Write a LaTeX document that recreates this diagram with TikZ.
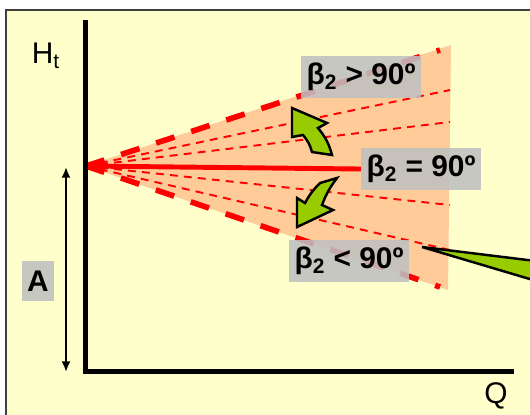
\documentclass[tikz,border=0pt]{standalone}
\usepackage{fontspec}
\setmainfont{Liberation Sans}
\usetikzlibrary{arrows.meta, positioning}
\definecolor{paleyellow}{RGB}{255,255,204}
\definecolor{fanorange}{RGB}{255,204,153}
\definecolor{leafgreen}{RGB}{153,204,0}
\definecolor{boxgray}{RGB}{192,192,192}

\begin{document}
\begin{tikzpicture}[
  x=0.02cm, y=-0.02cm,
  every node/.style={font=\fontsize{17}{20}\selectfont},
  tag/.style={fill=boxgray, fill opacity=0.88, text opacity=1, font=\fontsize{17}{20}\selectfont\bfseries, minimum height=24pt, inner sep=3pt},
  thickdash/.style={red, line width=3.2pt, dash pattern=on 11pt off 10pt},
  thindash/.style={red, line width=1.1pt, dash pattern=on 4.5pt off 3.5pt},
  turn/.style={draw=black, fill=leafgreen, line width=1.4pt, line join=miter},
  axis/.style={line width=2.8pt, line join=miter},
  span/.style={{Latex[length=6pt, width=5pt]}-{Latex[length=6pt, width=5pt]}, line width=1.1pt}
]
  \clip (0,0) rectangle (530,414);
  \fill[white] (0,0) rectangle (530,414);
  \draw[fill=paleyellow, draw=black!75, line width=0.8pt] (6,10) rectangle (560,440);

  % Fan
  \coordinate (apex) at (86,166);
  \coordinate (fanT) at (451,45);
  \coordinate (fanB) at (448,290);
  \fill[fanorange] (apex) -- (fanT) -- (fanB) -- cycle;

  \coordinate (up1) at (450,90);
  \coordinate (up2) at (450,122);
  \coordinate (dn1) at (450,205);
  \coordinate (dn2) at (450,250);
  \coordinate (upE) at (440,50);
  \coordinate (dnE) at (440,287);
  \foreach \e in {up1, up2, dn1, dn2}
    \draw[thindash] (apex) -- (\e);
  \draw[thickdash] (apex) -- (upE);
  \draw[thickdash] (apex) -- (dnE);

  % Labels
  \node[tag] (gt) at (361,77) {β\textsubscript{2} > 90º};
  \node[tag] (eq) at (421,169) {β\textsubscript{2} = 90º};
  \node[tag] (lt) at (349,261) {β\textsubscript{2} < 90º};
  \draw[red, line width=2.8pt] (apex) -- (eq.west);

  % Axes
  \coordinate (ytop) at (85.5,20);
  \coordinate (orig) at (85.5,371.5);
  \coordinate (xend) at (514,371.5);
  \draw[axis] (ytop) -- (orig) -- (xend);
  \node (ht) at (46,56) {H\textsubscript{t}};
  \node (q) at (496,396) {Q};

  % Height A
  \coordinate (atop) at (66,167);
  \coordinate (abot) at (66,372);
  \draw[span] (atop) -- (abot);
  \node[tag, minimum width=18pt, minimum height=23pt, inner sep=1pt] (a) at (38,281) {A};

  % Green arrows
  \draw[turn] (292,108) -- (327,123) -- (318,128) to[bend left=12] (332,155)
    -- (312,152) to[bend right=12] (303,135) -- (292,137) -- cycle;
  \draw[turn] (297,227) -- (297,198) -- (305,203) to[bend left=8] (320,183)
    -- (337,178) to[bend right=8] (322,205) -- (333,210) -- cycle;
  \draw[turn] (422,247) -- (560,264) -- (560,288) -- cycle;
\end{tikzpicture}
\end{document}
